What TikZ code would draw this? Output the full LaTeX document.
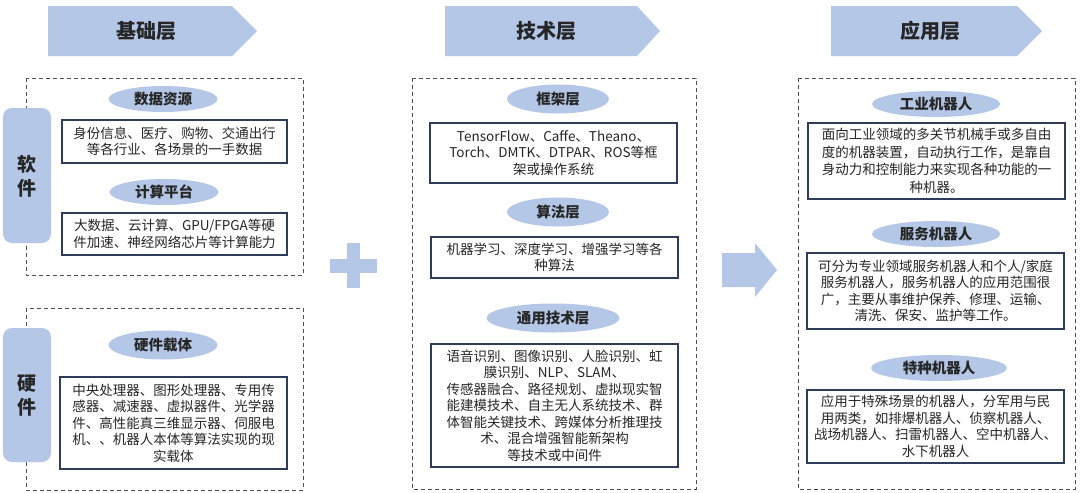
\documentclass[tikz,border=0pt]{standalone}
\usepackage{fontspec}
\setmainfont{Noto Sans CJK SC}
\usetikzlibrary{shapes.geometric}
\definecolor{lb}{HTML}{B4C7E7}
\definecolor{nv}{HTML}{2F3D5A}
\definecolor{dg}{HTML}{505050}
\definecolor{tx}{HTML}{262626}
\begin{document}
\begin{tikzpicture}[x=1pt,y=-1pt,
  hdr/.style={font=\fontsize{20}{24}\selectfont\bfseries, text=tx, inner sep=0pt},
  pill/.style={ellipse, fill=lb, inner sep=0pt, minimum height=26pt, font=\fontsize{14.5}{17}\selectfont\bfseries, text=tx},
  txtbox/.style={draw=nv, line width=1.1pt, fill=white, align=center, inner sep=0pt, font=\fontsize{13.5}{16.5}\selectfont, text=tx},
  grp/.style={draw=dg, dash pattern=on 4pt off 3pt, line width=0.9pt},
  tabshape/.style={fill=lb, rounded corners=9pt},
  tablabel/.style={font=\fontsize{19}{23}\selectfont\bfseries, text=tx, align=center, inner sep=0pt},
  shapefill/.style={fill=lb}]
\useasboundingbox (0,0) rectangle (1080,493);
\fill[white] (0,0) rectangle (1080,493);

% header arrows
\fill[shapefill] (48,6) -- (232,6) -- (257,31) -- (232,56) -- (48,56) -- cycle;
\fill[shapefill] (445,6) -- (637,6) -- (660,31) -- (637,56) -- (445,56) -- cycle;
\fill[shapefill] (831,6) -- (1017,6) -- (1042,31) -- (1017,56) -- (831,56) -- cycle;
\node[hdr] (h1) at (146,31) {基础层};
\node[hdr] (h2) at (546,31) {技术层};
\node[hdr] (h3) at (930,31) {应用层};

% dashed groups
\draw[grp] (26,78) rectangle (303,275);
\draw[grp] (26,308) rectangle (303,490);
\draw[grp] (412,78) rectangle (696,489);
\draw[grp] (798,78) rectangle (1075,489);

% side tabs
\fill[tabshape] (3,108) rectangle (51,243);
\fill[tabshape] (3,328) rectangle (51,462);
\node[tablabel] (t1) at (27,176) {软\\[1pt]件};
\node[tablabel] (t2) at (27,396) {硬\\[1pt]件};

% plus and arrow
\fill[shapefill] (347,243) rectangle (360,288);
\fill[shapefill] (330,259) rectangle (377,273);
\fill[shapefill] (722,253) -- (755,253) -- (755,243) -- (777,270) -- (755,297) -- (755,287) -- (722,287) -- cycle;

% left column
\node[pill, minimum width=109pt] (p1) at (163,99) {数据资源};
\node[txtbox, minimum width=225pt, minimum height=43pt] (b1) at (174.5,141.5) {身份信息、医疗、购物、交通出行\\等各行业、各场景的一手数据};
\node[pill, minimum width=109pt] (p2) at (164,192) {计算平台};
\node[txtbox, minimum width=225pt, minimum height=42pt] (b2) at (174.5,234) {大数据、云计算、GPU/FPGA等硬\\件加速、神经网络芯片等计算能力};
\node[pill, minimum width=109pt, minimum height=29pt] (p3) at (163,345) {硬件载体};
\node[txtbox, minimum width=227pt, minimum height=92pt] (b3) at (173.5,423) {中央处理器、图形处理器、专用传\\感器、减速器、虚拟器件、光学器\\件、高性能真三维显示器、伺服电\\机、、机器人本体等算法实现的现\\实载体};

% middle column
\node[pill, minimum width=102pt, minimum height=29pt] (p4) at (558,99) {框架层};
\node[txtbox, minimum width=247pt, minimum height=60pt] (b4) at (553.5,153) {TensorFlow、Caffe、Theano、\\Torch、DMTK、DTPAR、ROS等框\\架或操作系统};
\node[pill, minimum width=102pt, minimum height=29pt] (p5) at (558,212) {算法层};
\node[txtbox, minimum width=247pt, minimum height=41pt] (b5) at (554.5,257.5) {机器学习、深度学习、增强学习等各\\种算法};
\node[pill, minimum width=133pt, minimum height=29pt] (p6) at (553,318) {通用技术层};
\node[txtbox, minimum width=247pt, minimum height=123pt] (b6) at (554.5,405.5) {语音识别、图像识别、人脸识别、虹\\膜识别、NLP、SLAM、\\传感器融合、路径规划、虚拟现实智\\能建模技术、自主无人系统技术、群\\体智能关键技术、跨媒体分析推理技\\术、混合增强智能新架构\\等技术或中间件};

% right column
\node[pill, minimum width=128pt] (p7) at (936,104) {工业机器人};
\node[txtbox, minimum width=257pt, minimum height=76pt, font=\fontsize{13.5}{17.5}\selectfont] (b7) at (936.5,161) {面向工业领域的多关节机械手或多自由\\度的机器装置，自动执行工作，是靠自\\身动力和控制能力来实现各种功能的一\\种机器。};
\node[pill, minimum width=128pt] (p8) at (936,234) {服务机器人};
\node[txtbox, minimum width=257pt, minimum height=76pt] (b8) at (935.5,291) {可分为专业领域服务机器人和个人/家庭\\服务机器人，服务机器人的应用范围很\\广，主要从事维护保养、修理、运输、\\清洗、保安、监护等工作。};
\node[pill, minimum width=136pt] (p9) at (939,368) {特种机器人};
\node[txtbox, minimum width=257pt, minimum height=73pt] (b9) at (935.5,426.5) {应用于特殊场景的机器人，分军用与民\\用两类，如排爆机器人、侦察机器人、\\战场机器人、扫雷机器人、空中机器人、\\水下机器人};
\end{tikzpicture}
\end{document}
